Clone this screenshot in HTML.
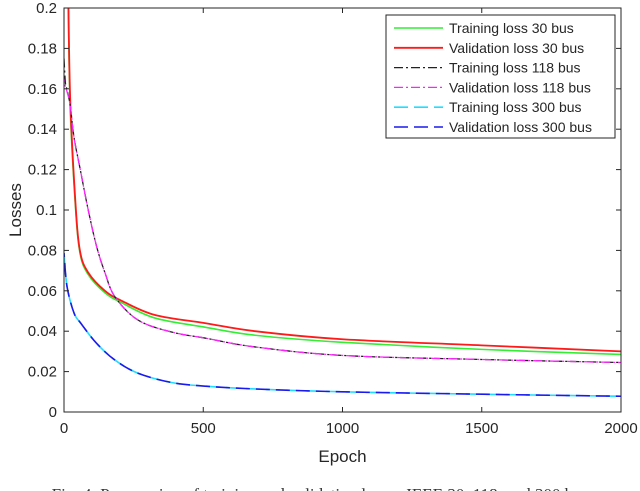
<!DOCTYPE html>
<html><head><meta charset="utf-8"><style>
html,body{margin:0;padding:0;background:#fff;width:640px;height:491px;overflow:hidden}
svg{display:block}
text{font-family:"Liberation Sans",sans-serif;fill:#262626}
</style></head><body>
<svg id="chart" width="640" height="491" viewBox="0 0 640 491" xmlns="http://www.w3.org/2000/svg">
<g id="grid"></g>
<g id="series"></g>
<g id="axes"></g>
<g id="legend"></g>
<text x="320" y="500" text-anchor="middle" style="font-family:'Liberation Serif',serif;font-size:17px;fill:#333">Fig. 4: Progression of training and validation losses IEEE 30, 118, and 300 bus</text>
</svg>
<script>
const xTicks=[0,500,1000,1500,2000];
const yTicks=[0,0.02,0.04,0.06,0.08,0.1,0.12,0.14,0.16,0.18,0.2];
const yTickLabels=["0","0.02","0.04","0.06","0.08","0.1","0.12","0.14","0.16","0.18","0.2"];
const epochs30=[15,22,40,57,87,147,208,327,506,686,1000,1500,2000];
const train30=[0.205,0.152,0.104,0.079,0.068,0.059,0.054,0.0465,0.042,0.038,0.0345,0.031,0.0285];
const val30=[0.21,0.156,0.106,0.080,0.069,0.060,0.055,0.048,0.044,0.040,0.036,0.033,0.030];
const epochs118=[0,5,10,22,36,57,87,117,147,183,266,386,506,686,1000,1500,2000];
const train118=[0.175,0.163,0.160,0.152,0.136,0.121,0.100,0.082,0.069,0.057,0.0455,0.0396,0.0366,0.0322,0.028,0.026,0.0245];
const val118=[0.165,0.161,0.159,0.152,0.136,0.121,0.100,0.082,0.069,0.057,0.0455,0.0396,0.0366,0.0322,0.028,0.026,0.0245];
const epochs300=[0,11,36,60,117,183,266,386,506,686,1000,1500,2000];
const train300=[0.0787,0.062,0.049,0.044,0.034,0.0257,0.0192,0.0146,0.0128,0.0114,0.0100,0.0088,0.0078];
const val300=[0.0787,0.062,0.049,0.044,0.034,0.0257,0.0192,0.0146,0.0128,0.0114,0.0100,0.0088,0.0078];
const seriesNames=["Training loss 30 bus","Validation loss 30 bus","Training loss 118 bus","Validation loss 118 bus","Training loss 300 bus","Validation loss 300 bus"];

const L=64,R=621,T=8,B=412;
const xs=v=>L+(v/2000)*(R-L);
const ys=v=>B-(v/0.2)*(B-T);
const NS="http://www.w3.org/2000/svg";
function mk(tag,attrs,parent){const e=document.createElementNS(NS,tag);for(const k in attrs)e.setAttribute(k,attrs[k]);parent.appendChild(e);return e;}
const axes=document.getElementById('axes');
const series=document.getElementById('series');
const legend=document.getElementById('legend');

const frame=mk('rect',{x:L,y:T,width:R-L,height:B-T,fill:'none',stroke:'#262626','stroke-width':1},axes);


xTicks.forEach(t=>{
  const x=xs(t);
  mk('line',{x1:x,y1:B,x2:x,y2:B-5,stroke:'#262626'},axes);
  mk('line',{x1:x,y1:T,x2:x,y2:T+5,stroke:'#262626'},axes);
  const tx=mk('text',{x:x,y:B+21,'text-anchor':'middle','font-size':'15'},axes);
  tx.textContent=t;
  
  
});
yTicks.forEach((t,i)=>{
  const y=ys(t);
  mk('line',{x1:L,y1:y,x2:L+5,y2:y,stroke:'#262626'},axes);
  mk('line',{x1:R,y1:y,x2:R-5,y2:y,stroke:'#262626'},axes);
  const tx=mk('text',{x:L-7,y:y+5,'text-anchor':'end','font-size':'15'},axes);
  tx.textContent=yTickLabels[i];
  
  
});
const xt=mk('text',{x:(L+R)/2,y:B+50,'text-anchor':'middle','font-size':'17'},axes);
xt.textContent='Epoch';


const yt=mk('text',{x:0,y:0,'text-anchor':'middle','font-size':'17',transform:`translate(21,${(T+B)/2}) rotate(-90)`},axes);
yt.textContent='Losses';



const defs=mk('defs',{},series);
const cp=mk('clipPath',{id:'clip'},defs);
mk('rect',{x:L,y:T,width:R-L,height:B-T},cp);

const styles=[
 {ex:epochs30,ys:train30,c:'#33ee33',d:'',w:1.6,n:'train-30-line'},
 {ex:epochs30,ys:val30,c:'#ff1a1a',d:'',w:1.8,n:'val-30-line'},
 {ex:epochs118,ys:train118,c:'#222',d:'9 3 2 3',w:1.3,n:'train-118-line'},
 {ex:epochs118,ys:val118,c:'#ff22ff',d:'9 3 2 3',w:1.3,n:'val-118-line',off:6},
 {ex:epochs300,ys:train300,c:'#22ddff',d:'14 6',w:1.6,n:'train-300-line'},
 {ex:epochs300,ys:val300,c:'#1a1aee',d:'14 6',w:1.6,n:'val-300-line',off:10}
];
function smoothPath(ex,vals){
  const p=ex.map((e,i)=>[xs(e),ys(vals[i])]);
  let d=`M${p[0][0]},${p[0][1]}`;
  for(let i=0;i<p.length-1;i++){
    const p0=p[i-1]||p[i],p1=p[i],p2=p[i+1],p3=p[i+2]||p2;
    const c1=[p1[0]+(p2[0]-p0[0])/6,p1[1]+(p2[1]-p0[1])/6];
    const c2=[p2[0]-(p3[0]-p1[0])/6,p2[1]-(p3[1]-p1[1])/6];
    d+=` C${c1[0]},${c1[1]} ${c2[0]},${c2[1]} ${p2[0]},${p2[1]}`;
  }
  return d;
}
styles.forEach(s=>{
  const p=mk('path',{d:smoothPath(s.ex,s.ys),fill:'none',stroke:s.c,'stroke-width':s.w,'stroke-dasharray':s.d,'stroke-dashoffset':s.off||0,'clip-path':'url(#clip)'},series);
  
  
});

const lb=mk('rect',{x:386,y:15,width:229,height:123,fill:'#fff',stroke:'#262626','stroke-width':1},legend);


seriesNames.forEach((nm,i)=>{
  const y=28+i*19.8;
  const s=styles[i];
  mk('line',{x1:394,y1:y,x2:443,y2:y,stroke:s.c,'stroke-width':s.w,'stroke-dasharray':s.d},legend);
  const t=mk('text',{x:449,y:y+5,'font-size':'14'},legend);
  t.textContent=nm;
  
  
});
</script>
</body></html>
